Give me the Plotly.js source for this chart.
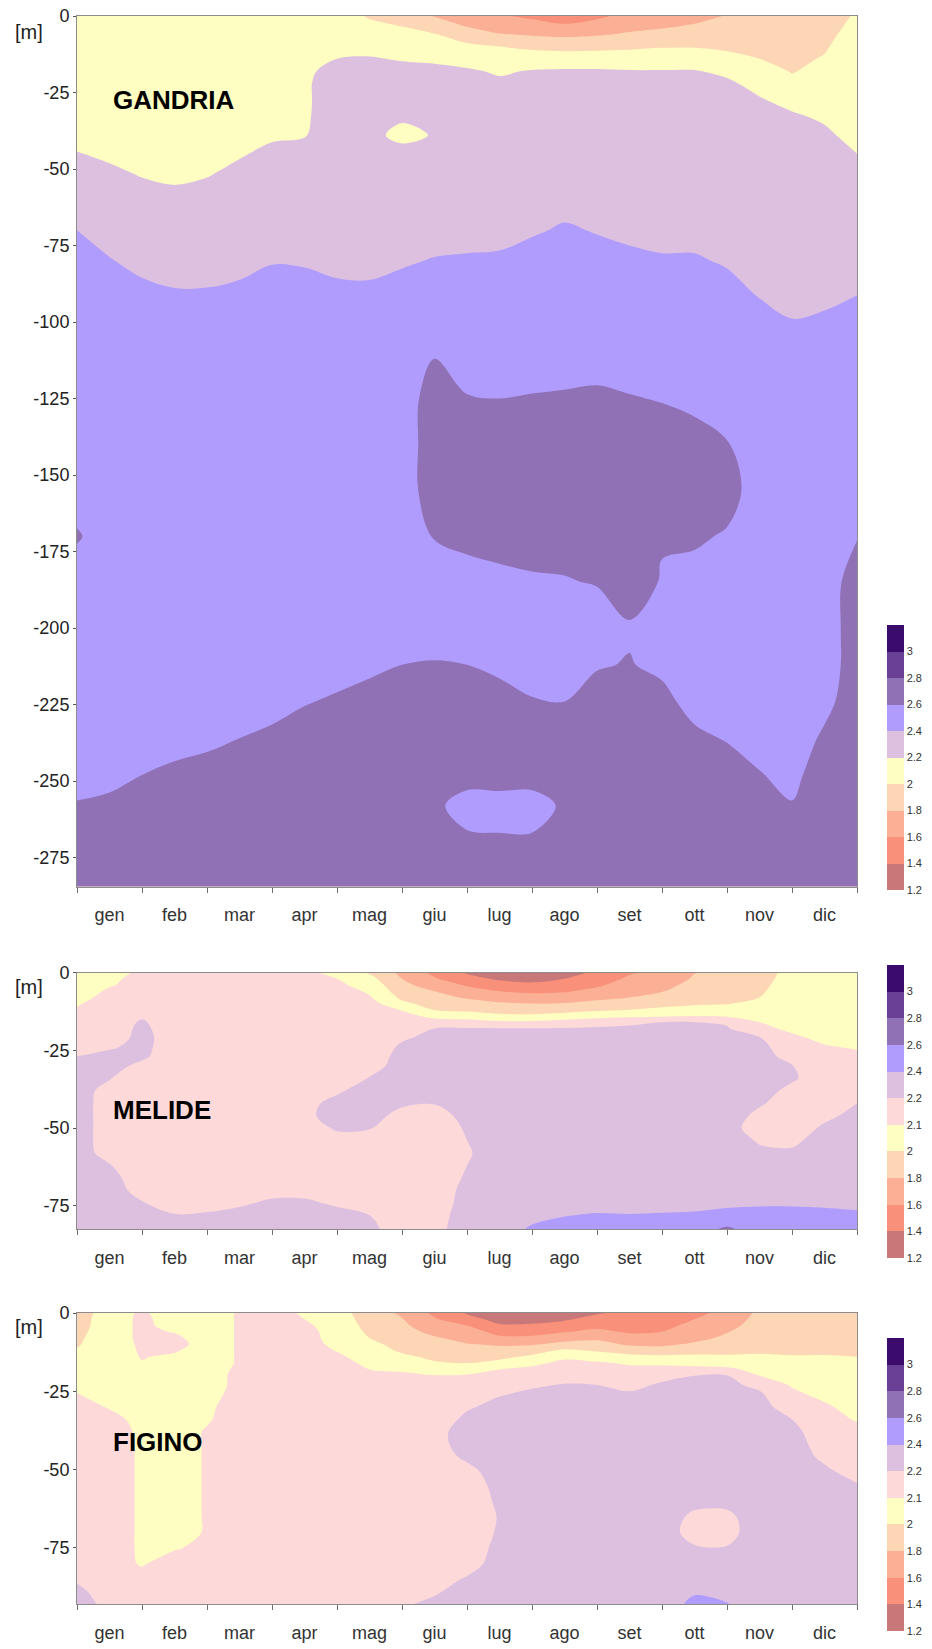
<!DOCTYPE html>
<html>
<head>
<meta charset="utf-8">
<script src="https://cdn.plot.ly/plotly-3.0.1.min.js"></script>
<style>
  html, body { margin: 0; padding: 0; background: #ffffff; }
  #chart { width: 932px; height: 1649px; }
</style>
</head>
<body>
<div id="chart"></div>
<script>
// Month labels (Italian) and the sampling positions along the year (months from 1 Jan)
const months = ['gen', 'feb', 'mar', 'apr', 'mag', 'giu', 'lug', 'ago', 'set', 'ott', 'nov', 'dic'];
const monthGrid = [0, 0.5, 1, 1.5, 2, 2.5, 3, 3.5, 4, 4.5, 5, 5.5, 6, 6.5, 7, 7.5, 8, 8.5, 9, 9.5, 10, 10.5, 11, 11.5, 12];

// Contour class boundaries and their colours
const gandriaLevels = [1.2, 1.4, 1.6, 1.8, 2.0, 2.2, 2.4, 2.6, 2.8, 3.0, 3.2];
const gandriaLevelLabels = ['1.2', '1.4', '1.6', '1.8', '2', '2.2', '2.4', '2.6', '2.8', '3'];
const gandriaColors = ['#c87878', '#f8907a', '#fbb096', '#fdd6b6', '#fefdc2', '#ddc0e0', '#b09cfc', '#9171b5', '#6a4096', '#3c0c6c'];

const basinLevels = [1.2, 1.4, 1.6, 1.8, 2.0, 2.1, 2.2, 2.4, 2.6, 2.8, 3.0, 3.2];
const basinLevelLabels = ['1.2', '1.4', '1.6', '1.8', '2', '2.1', '2.2', '2.4', '2.6', '2.8', '3'];
const basinColors = ['#c87878', '#f8907a', '#fbb096', '#fdd6b6', '#fefdc2', '#fdd9d9', '#ddc0e0', '#b09cfc', '#9171b5', '#6a4096', '#3c0c6c'];

// ---------------- GANDRIA ----------------
const gandriaDepth = [0, -3, -6, -10, -14, -18, -22, -27, -33, -39, -45, -52, -60, -70, -80, -90, -100, -112, -125, -140, -155, -170, -185, -200, -212, -224, -236, -248, -258, -268, -284.5];
const gandriaDepthTicks = [0, -25, -50, -75, -100, -125, -150, -175, -200, -225, -250, -275];
// one depth profile per monthGrid position
const gandriaProfiles = [
  [2.1,2.1,2.1,2.1,2.1,2.1,2.1,2.1,2.1,2.13,2.21,2.29,2.32,2.4,2.48,2.5,2.5,2.5,2.5,2.5,2.5,2.62,2.5,2.5,2.5,2.5,2.5,2.55,2.61,2.68,2.7],
  [2.1,2.1,2.1,2.1,2.1,2.1,2.1,2.1,2.1,2.1,2.16,2.25,2.3,2.33,2.41,2.49,2.5,2.5,2.5,2.5,2.5,2.5,2.5,2.5,2.5,2.5,2.5,2.56,2.63,2.69,2.7],
  [2.1,2.1,2.1,2.1,2.1,2.1,2.1,2.1,2.1,2.1,2.1,2.19,2.29,2.3,2.35,2.44,2.5,2.5,2.5,2.5,2.5,2.5,2.5,2.5,2.5,2.5,2.52,2.6,2.67,2.7,2.7],
  [2.1,2.1,2.1,2.1,2.1,2.1,2.1,2.1,2.1,2.1,2.1,2.16,2.26,2.3,2.32,2.41,2.49,2.5,2.5,2.5,2.5,2.5,2.5,2.5,2.5,2.5,2.55,2.63,2.7,2.7,2.7],
  [2.1,2.1,2.1,2.1,2.1,2.1,2.1,2.1,2.1,2.1,2.1,2.19,2.29,2.3,2.33,2.41,2.49,2.5,2.5,2.5,2.5,2.5,2.5,2.5,2.5,2.5,2.57,2.65,2.7,2.7,2.7],
  [2.1,2.1,2.1,2.1,2.1,2.1,2.1,2.1,2.1,2.1,2.18,2.26,2.3,2.3,2.35,2.43,2.5,2.5,2.5,2.5,2.5,2.5,2.5,2.5,2.5,2.52,2.6,2.68,2.7,2.7,2.7],
  [2.1,2.1,2.1,2.1,2.1,2.1,2.1,2.1,2.1,2.17,2.25,2.3,2.3,2.3,2.39,2.47,2.5,2.5,2.5,2.5,2.5,2.5,2.5,2.5,2.5,2.55,2.63,2.7,2.7,2.7,2.7],
  [2.1,2.1,2.1,2.12,2.16,2.17,2.17,2.17,2.175,2.19,2.27,2.3,2.3,2.3,2.38,2.47,2.5,2.5,2.5,2.5,2.5,2.5,2.5,2.5,2.51,2.59,2.67,2.7,2.7,2.7,2.7],
  [2.1,2.1,2.1,2.15,2.2,2.25,2.3,2.3,2.3,2.3,2.3,2.3,2.3,2.3,2.36,2.43,2.5,2.5,2.5,2.5,2.5,2.5,2.5,2.5,2.54,2.62,2.7,2.7,2.7,2.7,2.7],
  [1.98,2.04,2.09,2.16,2.21,2.26,2.3,2.3,2.28,2.28,2.3,2.3,2.3,2.3,2.35,2.43,2.5,2.5,2.5,2.5,2.5,2.5,2.5,2.5,2.57,2.65,2.7,2.7,2.7,2.7,2.7],
  [1.91,1.99,2.06,2.14,2.19,2.24,2.29,2.3,2.24,2.12,2.3,2.3,2.3,2.3,2.38,2.46,2.5,2.5,2.5,2.5,2.5,2.5,2.5,2.52,2.6,2.68,2.7,2.7,2.7,2.7,2.7],
  [1.79,1.9,2.01,2.13,2.18,2.23,2.28,2.3,2.29,2.22,2.3,2.3,2.3,2.33,2.41,2.49,2.52,2.6,2.69,2.7,2.7,2.61,2.51,2.53,2.61,2.69,2.7,2.7,2.64,2.68,2.7],
  [1.66,1.78,1.9,2.04,2.14,2.22,2.27,2.3,2.3,2.3,2.3,2.3,2.3,2.34,2.42,2.5,2.5,2.52,2.61,2.7,2.7,2.64,2.54,2.52,2.6,2.68,2.7,2.68,2.52,2.62,2.7],
  [1.62,1.71,1.81,2.0,2.08,2.18,2.23,2.28,2.3,2.3,2.3,2.3,2.3,2.34,2.43,2.5,2.5,2.51,2.6,2.7,2.7,2.66,2.56,2.5,2.57,2.65,2.7,2.69,2.52,2.61,2.7],
  [1.56,1.67,1.78,1.96,2.1,2.21,2.26,2.3,2.3,2.3,2.3,2.3,2.3,2.38,2.47,2.5,2.5,2.53,2.61,2.7,2.7,2.65,2.585,2.5,2.53,2.61,2.69,2.68,2.52,2.61,2.7],
  [1.48,1.62,1.76,1.94,2.1,2.22,2.26,2.3,2.3,2.3,2.3,2.3,2.34,2.42,2.5,2.5,2.5,2.53,2.62,2.7,2.7,2.66,2.59,2.5,2.52,2.6,2.68,2.7,2.63,2.66,2.7],
  [1.56,1.67,1.78,1.95,2.1,2.22,2.26,2.3,2.3,2.3,2.3,2.3,2.31,2.39,2.46,2.5,2.5,2.54,2.63,2.7,2.7,2.7,2.61,2.51,2.59,2.65,2.7,2.7,2.7,2.7,2.7],
  [1.66,1.74,1.82,1.97,2.09,2.21,2.26,2.3,2.3,2.3,2.3,2.3,2.3,2.36,2.44,2.5,2.5,2.52,2.61,2.7,2.7,2.7,2.67,2.585,2.607,2.69,2.7,2.7,2.7,2.7,2.7],
  [1.72,1.77,1.85,1.99,2.09,2.21,2.26,2.3,2.3,2.3,2.3,2.3,2.3,2.34,2.42,2.5,2.5,2.51,2.59,2.69,2.7,2.61,2.59,2.5,2.57,2.64,2.69,2.7,2.7,2.7,2.7],
  [1.74,1.81,1.9,1.99,2.1,2.21,2.26,2.3,2.3,2.3,2.3,2.3,2.3,2.34,2.42,2.5,2.5,2.5,2.56,2.66,2.7,2.63,2.53,2.5,2.5,2.55,2.63,2.7,2.7,2.7,2.7],
  [1.81,1.86,1.91,1.97,2.05,2.16,2.23,2.29,2.3,2.3,2.3,2.3,2.3,2.3,2.38,2.46,2.5,2.5,2.51,2.61,2.68,2.58,2.5,2.5,2.5,2.51,2.59,2.67,2.7,2.7,2.7],
  [1.85,1.88,1.91,1.95,2.0,2.07,2.14,2.21,2.29,2.3,2.3,2.3,2.3,2.3,2.3,2.38,2.47,2.5,2.5,2.5,2.5,2.5,2.5,2.5,2.5,2.5,2.53,2.61,2.68,2.7,2.7],
  [1.87,1.89,1.91,1.94,1.97,1.99,2.04,2.13,2.23,2.3,2.3,2.3,2.3,2.3,2.3,2.32,2.41,2.5,2.5,2.5,2.5,2.5,2.5,2.5,2.5,2.5,2.5,2.55,2.61,2.68,2.7],
  [1.92,1.94,1.96,1.985,2.01,2.05,2.09,2.13,2.17,2.24,2.29,2.3,2.3,2.3,2.3,2.35,2.43,2.5,2.5,2.5,2.5,2.5,2.5,2.5,2.5,2.55,2.63,2.7,2.7,2.7,2.7],
  [2.02,2.04,2.06,2.08,2.1,2.1,2.1,2.1,2.1,2.13,2.2,2.29,2.3,2.3,2.3,2.39,2.47,2.5,2.5,2.5,2.5,2.59,2.69,2.7,2.7,2.7,2.7,2.7,2.7,2.7,2.7]
];

// ---------------- MELIDE ----------------
const melideDepth = [0, -2, -4, -6, -8, -10, -12, -14, -16, -18, -21, -24, -27, -30, -34, -38, -42, -46, -50, -54, -58, -62, -66, -70, -74, -78, -82.5];
const melideDepthTicks = [0, -25, -50, -75];
const melideProfiles = [
  [2.04,2.04,2.045,2.05,2.06,2.09,2.11,2.14,2.15,2.15,2.15,2.16,2.2,2.24,2.29,2.3,2.3,2.3,2.3,2.3,2.3,2.3,2.3,2.3,2.3,2.3,2.3],
  [2.06,2.08,2.09,2.115,2.14,2.15,2.15,2.15,2.15,2.15,2.15,2.19,2.25,2.26,2.21,2.16,2.15,2.15,2.15,2.15,2.16,2.21,2.26,2.3,2.3,2.3,2.3],
  [2.12,2.13,2.14,2.15,2.15,2.15,2.16,2.19,2.22,2.24,2.26,2.25,2.23,2.18,2.15,2.15,2.15,2.15,2.15,2.15,2.15,2.15,2.15,2.16,2.21,2.26,2.3],
  [2.13,2.14,2.15,2.15,2.15,2.15,2.15,2.15,2.15,2.15,2.15,2.15,2.15,2.15,2.15,2.15,2.15,2.15,2.15,2.15,2.15,2.15,2.15,2.15,2.16,2.21,2.27],
  [2.13,2.14,2.15,2.15,2.15,2.15,2.15,2.15,2.15,2.15,2.15,2.15,2.15,2.15,2.15,2.15,2.15,2.15,2.15,2.15,2.15,2.15,2.15,2.15,2.17,2.22,2.28],
  [2.13,2.14,2.15,2.15,2.15,2.15,2.15,2.15,2.15,2.15,2.15,2.15,2.15,2.15,2.15,2.15,2.15,2.15,2.15,2.15,2.15,2.15,2.15,2.15,2.19,2.24,2.3],
  [2.13,2.14,2.15,2.15,2.15,2.15,2.15,2.15,2.15,2.15,2.15,2.15,2.15,2.15,2.15,2.15,2.15,2.15,2.15,2.15,2.15,2.15,2.15,2.18,2.22,2.27,2.3],
  [2.12,2.14,2.15,2.15,2.15,2.15,2.15,2.15,2.15,2.15,2.15,2.15,2.15,2.15,2.15,2.16,2.18,2.18,2.16,2.15,2.15,2.15,2.15,2.18,2.22,2.27,2.3],
  [2.07,2.1,2.12,2.15,2.15,2.15,2.15,2.15,2.15,2.15,2.15,2.15,2.15,2.15,2.15,2.19,2.24,2.27,2.22,2.17,2.15,2.15,2.15,2.15,2.19,2.24,2.3],
  [1.98,2.03,2.06,2.085,2.11,2.14,2.15,2.15,2.15,2.15,2.15,2.15,2.15,2.15,2.21,2.26,2.3,2.26,2.21,2.16,2.15,2.15,2.15,2.15,2.15,2.2,2.25],
  [1.75,1.8,1.85,1.9,1.96,2.02,2.095,2.13,2.15,2.15,2.19,2.225,2.26,2.3,2.3,2.3,2.225,2.175,2.15,2.15,2.15,2.15,2.15,2.15,2.15,2.15,2.15],
  [1.55,1.62,1.71,1.8,1.86,1.93,1.99,2.075,2.14,2.2,2.24,2.275,2.3,2.3,2.3,2.3,2.21,2.16,2.15,2.15,2.15,2.15,2.15,2.15,2.15,2.16,2.17],
  [1.38,1.47,1.58,1.68,1.78,1.87,1.96,2.05,2.145,2.21,2.25,2.29,2.3,2.3,2.3,2.3,2.3,2.26,2.22,2.2,2.19,2.2,2.22,2.25,2.27,2.29,2.3],
  [1.25,1.37,1.49,1.6,1.69,1.83,1.93,2.02,2.12,2.21,2.25,2.29,2.3,2.3,2.3,2.3,2.3,2.3,2.3,2.3,2.3,2.3,2.3,2.3,2.3,2.3,2.33],
  [1.22,1.33,1.45,1.56,1.68,1.8,1.91,2.02,2.12,2.21,2.25,2.285,2.3,2.3,2.3,2.3,2.3,2.3,2.3,2.3,2.3,2.3,2.3,2.3,2.31,2.36,2.42],
  [1.28,1.4,1.49,1.58,1.69,1.81,1.93,2.04,2.14,2.21,2.25,2.29,2.3,2.3,2.3,2.3,2.3,2.3,2.3,2.3,2.3,2.3,2.3,2.3,2.345,2.395,2.45],
  [1.45,1.51,1.57,1.65,1.75,1.86,1.97,2.065,2.17,2.22,2.26,2.29,2.3,2.3,2.3,2.3,2.3,2.3,2.3,2.3,2.3,2.3,2.3,2.3,2.35,2.41,2.46],
  [1.58,1.63,1.69,1.74,1.8,1.9,2.0,2.08,2.19,2.22,2.26,2.29,2.3,2.3,2.3,2.3,2.3,2.3,2.3,2.3,2.3,2.3,2.3,2.3,2.355,2.405,2.46],
  [1.64,1.69,1.74,1.79,1.86,1.94,2.02,2.09,2.2,2.22,2.26,2.29,2.3,2.3,2.3,2.3,2.3,2.3,2.3,2.3,2.3,2.3,2.3,2.31,2.36,2.41,2.47],
  [1.795,1.82,1.86,1.9,1.94,1.98,2.03,2.1,2.2,2.22,2.26,2.29,2.3,2.3,2.3,2.3,2.3,2.3,2.3,2.3,2.3,2.3,2.3,2.315,2.365,2.415,2.5],
  [1.82,1.85,1.88,1.91,1.95,1.99,2.04,2.09,2.19,2.215,2.255,2.29,2.3,2.3,2.3,2.3,2.3,2.3,2.3,2.3,2.3,2.3,2.3,2.32,2.37,2.44,2.64],
  [1.9,1.92,1.95,1.975,2.0,2.03,2.05,2.075,2.1,2.125,2.21,2.25,2.29,2.3,2.3,2.275,2.225,2.175,2.14,2.19,2.24,2.29,2.3,2.335,2.385,2.435,2.49],
  [2.04,2.045,2.05,2.05,2.05,2.05,2.05,2.05,2.055,2.08,2.12,2.15,2.16,2.205,2.225,2.175,2.15,2.15,2.15,2.18,2.23,2.28,2.3,2.335,2.385,2.435,2.49],
  [2.05,2.05,2.05,2.05,2.05,2.05,2.05,2.05,2.05,2.05,2.075,2.11,2.15,2.15,2.15,2.15,2.15,2.18,2.23,2.28,2.3,2.3,2.3,2.33,2.38,2.43,2.48],
  [2.05,2.05,2.05,2.05,2.05,2.05,2.05,2.05,2.05,2.05,2.05,2.09,2.125,2.15,2.15,2.15,2.2,2.25,2.3,2.3,2.3,2.3,2.3,2.32,2.37,2.42,2.48]
];

// ---------------- FIGINO ----------------
const figinoDepth = [0, -2, -4, -6, -8, -10, -12, -14, -16, -18, -20, -23, -26, -30, -34, -38, -42, -46, -50, -55, -60, -65, -70, -75, -80, -85, -89, -93];
const figinoDepthTicks = [0, -25, -50, -75];
const figinoProfiles = [
  [1.9,1.92,1.93,1.95,1.97,1.985,2.005,2.03,2.05,2.05,2.05,2.07,2.105,2.15,2.15,2.15,2.15,2.15,2.15,2.15,2.15,2.15,2.15,2.15,2.15,2.19,2.24,2.29],
  [2.05,2.05,2.05,2.05,2.05,2.05,2.05,2.05,2.05,2.05,2.05,2.05,2.05,2.09,2.14,2.15,2.15,2.15,2.15,2.15,2.15,2.15,2.15,2.15,2.15,2.15,2.16,2.17],
  [2.115,2.12,2.12,2.12,2.12,2.115,2.11,2.105,2.095,2.07,2.05,2.05,2.05,2.05,2.06,2.08,2.085,2.085,2.085,2.085,2.085,2.085,2.085,2.085,2.09,2.14,2.15,2.15],
  [2.05,2.06,2.07,2.095,2.12,2.14,2.11,2.085,2.06,2.05,2.05,2.05,2.05,2.05,2.05,2.05,2.05,2.05,2.05,2.05,2.05,2.05,2.05,2.09,2.15,2.15,2.15,2.15],
  [2.05,2.05,2.05,2.05,2.05,2.05,2.05,2.05,2.05,2.05,2.05,2.05,2.06,2.08,2.09,2.11,2.11,2.11,2.11,2.11,2.11,2.11,2.11,2.13,2.15,2.15,2.15,2.15],
  [2.11,2.11,2.11,2.11,2.11,2.11,2.11,2.11,2.11,2.12,2.13,2.13,2.14,2.15,2.15,2.15,2.15,2.15,2.15,2.15,2.15,2.15,2.15,2.15,2.15,2.15,2.15,2.15],
  [2.13,2.14,2.15,2.15,2.15,2.15,2.15,2.15,2.15,2.15,2.15,2.15,2.15,2.15,2.15,2.15,2.15,2.15,2.15,2.15,2.15,2.15,2.15,2.15,2.15,2.15,2.15,2.15],
  [2.09,2.1,2.12,2.14,2.15,2.15,2.15,2.15,2.15,2.15,2.15,2.15,2.15,2.15,2.15,2.15,2.15,2.15,2.15,2.15,2.15,2.15,2.15,2.15,2.15,2.15,2.15,2.15],
  [2.04,2.05,2.05,2.05,2.05,2.07,2.095,2.12,2.14,2.15,2.15,2.15,2.15,2.15,2.15,2.15,2.15,2.15,2.15,2.15,2.15,2.15,2.15,2.15,2.15,2.15,2.15,2.15],
  [1.9,1.92,1.95,1.975,2.0,2.025,2.05,2.05,2.075,2.1,2.125,2.15,2.15,2.15,2.15,2.15,2.15,2.15,2.15,2.15,2.15,2.15,2.15,2.15,2.15,2.16,2.165,2.17],
  [1.77,1.81,1.84,1.87,1.9,1.93,1.97,2.02,2.05,2.09,2.115,2.15,2.15,2.15,2.15,2.15,2.15,2.15,2.15,2.15,2.15,2.15,2.15,2.15,2.15,2.16,2.18,2.19],
  [1.56,1.62,1.68,1.75,1.82,1.86,1.91,1.96,2.01,2.05,2.105,2.14,2.15,2.15,2.15,2.17,2.17,2.16,2.15,2.15,2.15,2.15,2.15,2.15,2.15,2.16,2.19,2.24],
  [1.38,1.47,1.6,1.67,1.74,1.81,1.86,1.93,2.0,2.06,2.11,2.14,2.15,2.19,2.24,2.28,2.27,2.23,2.18,2.15,2.15,2.15,2.15,2.15,2.16,2.22,2.27,2.3],
  [1.28,1.34,1.42,1.55,1.63,1.78,1.86,1.95,2.03,2.1,2.125,2.15,2.195,2.25,2.3,2.3,2.3,2.3,2.28,2.26,2.23,2.21,2.22,2.25,2.28,2.3,2.3,2.3],
  [1.25,1.33,1.43,1.53,1.64,1.78,1.91,2.02,2.08,2.12,2.15,2.19,2.23,2.28,2.3,2.3,2.3,2.3,2.3,2.3,2.3,2.3,2.3,2.3,2.3,2.3,2.3,2.3],
  [1.3,1.38,1.47,1.59,1.72,1.86,2.02,2.085,2.12,2.15,2.17,2.21,2.25,2.3,2.3,2.3,2.3,2.3,2.3,2.3,2.3,2.3,2.3,2.3,2.3,2.3,2.3,2.3],
  [1.38,1.46,1.55,1.64,1.76,1.87,1.98,2.06,2.11,2.14,2.15,2.2,2.24,2.29,2.3,2.3,2.3,2.3,2.3,2.3,2.3,2.3,2.3,2.3,2.3,2.3,2.3,2.3],
  [1.45,1.49,1.53,1.58,1.67,1.77,1.92,2.03,2.09,2.12,2.14,2.18,2.22,2.27,2.3,2.3,2.3,2.3,2.3,2.3,2.3,2.3,2.3,2.3,2.3,2.3,2.3,2.3],
  [1.47,1.51,1.55,1.6,1.68,1.76,1.89,2.02,2.08,2.13,2.18,2.22,2.26,2.3,2.3,2.3,2.3,2.3,2.3,2.3,2.3,2.3,2.3,2.3,2.3,2.3,2.3,2.3],
  [1.55,1.6,1.65,1.69,1.74,1.83,1.93,2.02,2.07,2.13,2.2,2.24,2.27,2.3,2.3,2.3,2.3,2.3,2.3,2.3,2.26,2.18,2.16,2.22,2.3,2.33,2.38,2.45],
  [1.66,1.7,1.74,1.79,1.84,1.9,1.96,2.01,2.06,2.12,2.205,2.24,2.28,2.3,2.3,2.3,2.3,2.3,2.3,2.3,2.25,2.18,2.17,2.21,2.28,2.3,2.34,2.41],
  [1.84,1.86,1.88,1.9,1.92,1.95,1.98,2.01,2.04,2.07,2.1,2.18,2.225,2.275,2.3,2.3,2.3,2.3,2.3,2.3,2.3,2.3,2.3,2.3,2.3,2.3,2.3,2.3],
  [1.86,1.875,1.89,1.905,1.92,1.945,1.97,2.005,2.03,2.05,2.05,2.09,2.125,2.15,2.2,2.25,2.3,2.3,2.3,2.3,2.3,2.3,2.3,2.3,2.3,2.3,2.3,2.3],
  [1.87,1.88,1.9,1.91,1.93,1.95,1.975,2.005,2.03,2.05,2.05,2.05,2.07,2.12,2.15,2.15,2.15,2.18,2.23,2.29,2.3,2.3,2.3,2.3,2.3,2.3,2.3,2.3],
  [1.88,1.89,1.9,1.92,1.93,1.95,1.97,2.0,2.03,2.05,2.05,2.05,2.05,2.05,2.09,2.14,2.15,2.15,2.15,2.215,2.28,2.3,2.3,2.3,2.3,2.3,2.3,2.3]
];

// ---------------- drawing ----------------
const FONT = 'Liberation Sans, Arial, Helvetica, sans-serif';
const H = 1649;
const toPaperY = px => 1 - px / H;          // pixel row -> paper fraction (no top/bottom margin)
const toPaperX = px => (px - 77) / 780;     // pixel column -> paper fraction of the plot width

// position of a value inside its class, in class units, so unequal classes get equal colour-bar steps
function classIndex(v, levels) {
  for (let i = 0; i < levels.length - 1; i++) {
    if (v < levels[i + 1]) return i + (v - levels[i]) / (levels[i + 1] - levels[i]);
  }
  return levels.length - 1;
}

function gridFrom(profiles, depth, levels) {
  return depth.map((_, r) => profiles.map(col => classIndex(col[r], levels)));
}

// stepped colour scale: class k is coloured at its centre (k + 0.5) / n
function steppedScale(colors) {
  const n = colors.length;
  const scale = [[0, colors[0]]];
  colors.forEach((c, k) => scale.push([(k + 0.5) / n, c]));
  scale.push([1, colors[n - 1]]);
  return scale;
}

function contourTrace(profiles, depth, levels, colors, labels, axisId, cbTop, cbLen) {
  const n = colors.length;
  return {
    type: 'contour',
    x: monthGrid,
    y: depth,
    z: gridFrom(profiles, depth, levels),
    xaxis: 'x' + axisId,
    yaxis: 'y' + axisId,
    autocontour: false,
    zmin: 0, zmax: n,
    contours: { start: 0, end: n, size: 1, coloring: 'fill', showlines: false },
    line: { width: 0, smoothing: 1 },
    colorscale: steppedScale(colors),
    hoverinfo: 'skip',
    showscale: true,
    colorbar: {
      x: toPaperX(887), xanchor: 'left', xpad: 0,
      y: toPaperY(cbTop), yanchor: 'top', ypad: 0,
      len: cbLen, lenmode: 'pixels',
      thickness: 17, thicknessmode: 'pixels',
      outlinewidth: 0,
      tickmode: 'array',
      tickvals: labels.map((_, i) => i),
      ticktext: labels,
      ticks: '',
      tickfont: { family: FONT, size: 11, color: '#333333' }
    }
  };
}

const monthCenters = months.map((_, i) => i + 0.5);
const monthEdges = monthGrid.filter(v => Number.isInteger(v));

function xAxis(anchor) {
  return {
    anchor: anchor, domain: [0, 1], range: [0, 12],
    tickmode: 'array', tickvals: monthCenters, ticktext: months, ticks: '',
    ticklabelstandoff: 12,
    minor: { tickmode: 'array', tickvals: monthEdges, ticks: 'outside', ticklen: 5, tickwidth: 1, tickcolor: '#6f6f6f', showgrid: false },
    showline: true, mirror: true, linecolor: '#8c8c8c', linewidth: 1,
    showgrid: false, zeroline: false, fixedrange: true,
    tickfont: { family: FONT, size: 18, color: '#333333' }
  };
}

function yAxis(anchor, top, bottom, lowest, ticks) {
  return {
    anchor: anchor, domain: [toPaperY(bottom), toPaperY(top)], range: [lowest, 0],
    tickmode: 'array', tickvals: ticks, ticktext: ticks.map(String),
    ticks: 'outside', ticklen: 3, tickcolor: '#555555',
    showline: true, mirror: true, linecolor: '#8c8c8c', linewidth: 1,
    showgrid: false, zeroline: false, fixedrange: true,
    tickfont: { family: FONT, size: 18, color: '#222222' }
  };
}

function unitLabel(py) {
  return { xref: 'paper', yref: 'paper', x: toPaperX(29), y: toPaperY(py), xanchor: 'center', yanchor: 'middle',
           text: '[m]', showarrow: false, font: { family: FONT, size: 20, color: '#222222' } };
}
function stationLabel(name, py) {
  return { xref: 'paper', yref: 'paper', x: toPaperX(111), y: toPaperY(py), xanchor: 'left', yanchor: 'middle',
           text: name, showarrow: false, font: { family: FONT, size: 26, color: '#000000', weight: 'bold' } };
}

const data = [
  contourTrace(gandriaProfiles, gandriaDepth, gandriaLevels, gandriaColors, gandriaLevelLabels, '', 625, 265),
  contourTrace(melideProfiles, melideDepth, basinLevels, basinColors, basinLevelLabels, '2', 965, 293),
  contourTrace(figinoProfiles, figinoDepth, basinLevels, basinColors, basinLevelLabels, '3', 1338, 293)
];

const layout = {
  width: 932, height: 1649,
  margin: { l: 77, r: 75, t: 0, b: 0, pad: 0 },
  paper_bgcolor: '#ffffff', plot_bgcolor: '#ffffff',
  showlegend: false,
  font: { family: FONT, color: '#222222' },
  xaxis: xAxis('y'),
  yaxis: yAxis('x', 16, 886.6, -284.5, gandriaDepthTicks),
  xaxis2: xAxis('y2'),
  yaxis2: yAxis('x2', 972.5, 1229.2, -82.5, melideDepthTicks),
  xaxis3: xAxis('y3'),
  yaxis3: yAxis('x3', 1313, 1604.3, -93, figinoDepthTicks),
  annotations: [
    unitLabel(32), unitLabel(987), unitLabel(1327),
    stationLabel('GANDRIA', 100), stationLabel('MELIDE', 1110), stationLabel('FIGINO', 1442)
  ]
};

Plotly.newPlot('chart', data, layout, { displayModeBar: false, staticPlot: true });
</script>
</body>
</html>
